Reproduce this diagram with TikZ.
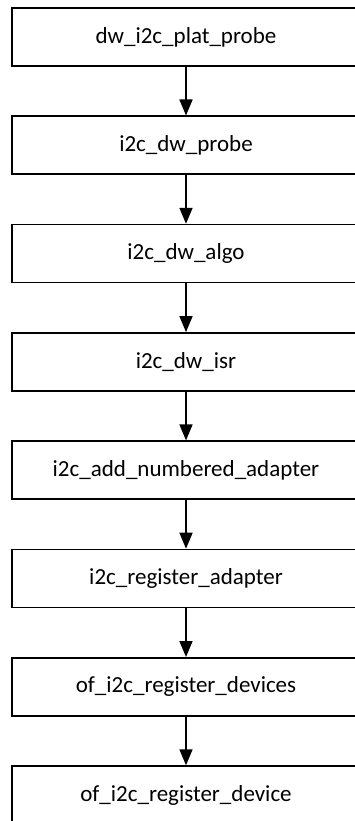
\documentclass[tikz,border=0pt]{standalone}
\usepackage{fontspec}
\setmainfont{Carlito}
\usetikzlibrary{arrows.meta}
\begin{document}
\begin{tikzpicture}[x=1pt,y=-1pt,
  fbox/.style={draw=black,line width=1.6pt,fill=white,minimum width=348pt,minimum height=58pt,inner sep=0pt,font=\fontsize{23}{27}\selectfont,anchor=center},
  farrow/.style={line width=1.6pt,-{Triangle[width=13pt,length=16pt]}}]
\useasboundingbox (0,0) rectangle (355,821);
\clip (0,0) rectangle (355,821);
\foreach \n/\t [count=\i from 0] in {a/dw\_i2c\_plat\_probe,b/i2c\_dw\_probe,c/i2c\_dw\_algo,d/i2c\_dw\_isr,e/i2c\_add\_numbered\_adapter,f/i2c\_register\_adapter,g/of\_i2c\_register\_devices,h/of\_i2c\_register\_device}{
  \node[fbox] (\n) at (186,{37+108.3*\i}) {\t};
}
\foreach \p/\q in {a/b,b/c,c/d,d/e,e/f,f/g,g/h}{
  \draw[farrow] (\p.south) -- (\q.north);
}
\end{tikzpicture}
\end{document}
